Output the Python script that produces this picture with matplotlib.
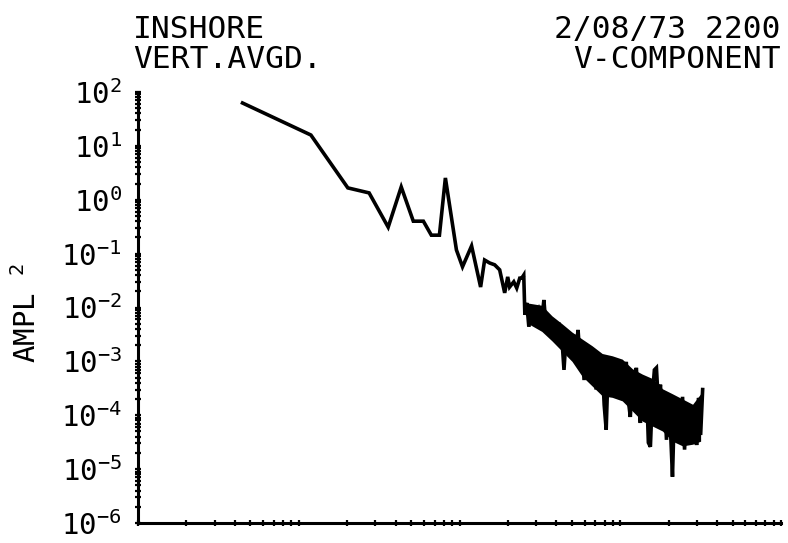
import numpy as np
import matplotlib
matplotlib.use("Agg")
import matplotlib.pyplot as plt
from matplotlib.ticker import LogLocator, LogFormatterSciNotation, NullFormatter

# spectrum (frequency, ampl^2)
freq = [4.47, 11.9, 20.2, 27.4, 36.0, 43.4, 51.6, 59.6, 66.8, 75.0,
        81.7, 95.7, 104.4, 118.9, 135.3, 143.3, 154, 165.5, 177.8, 191,
        199.5, 205, 217.6, 227, 237, 244, 251, 255, 262, 270,
        282, 294, 312, 325, 335, 340, 360, 376, 392, 416,
        434, 446.7, 459.7, 473.2, 486.9, 501.2, 515.8, 530.9, 546.4, 562.3,
        578.7, 595.7, 613.1, 631.0, 649.4, 668.3, 687.9, 707.9, 728.6, 749.9,
        771.8, 794.3, 817.5, 841.4, 865.9, 891.3, 917.3, 944.1, 971.6, 1000,
        1029, 1059, 1090, 1122, 1155, 1189, 1223, 1259, 1296, 1334,
        1372, 1413, 1454, 1496, 1540, 1585, 1631, 1679, 1728, 1778,
        1830, 1884, 1939, 1995, 2054, 2113, 2175, 2239, 2304, 2371,
        2441, 2512, 2585, 2661, 2738, 2818, 2901, 2985, 3073, 3162,
        3255]
ampl2 = [62.5, 15.9, 1.66, 1.34, 0.31, 1.73, 0.40, 0.40, 0.22, 0.22,
         2.54, 0.117, 0.057, 0.139, 0.024, 0.076, 0.067, 0.062, 0.050, 0.0187,
         0.037, 0.024, 0.030, 0.023, 0.035, 0.035, 0.040, 0.0073, 0.0122, 0.0044,
         0.0090, 0.0052, 0.0090, 0.0059, 0.0138, 0.0079, 0.0034, 0.0052, 0.00285, 0.0052,
         0.0025, 6.95e-4, 2.73e-3, 1.63e-3, 2.5e-3, 1.32e-3, 3.1e-3, 1.63e-3, 3.84e-3, 1.07e-3,
         2.02e-3, 4.5e-4, 1.85e-3, 8.6e-4, 1.5e-3, 5.6e-4, 1.45e-3, 3.0e-4, 1.15e-3, 3.7e-4,
         9.8e-4, 1.56e-4, 5.4e-5, 8.6e-4, 2.8e-4, 1.07e-3, 2.3e-4, 9.4e-4, 3.0e-4, 8.6e-4,
         2.4e-4, 5.6e-4, 9.8e-4, 1.93e-4, 9.3e-5, 4.5e-4, 2.8e-4, 7.6e-4, 1.93e-4, 7.2e-5,
         5.0e-4, 1.93e-4, 4.1e-4, 3.1e-5, 2.6e-5, 2.4e-4, 6.95e-4, 7.6e-4, 1.56e-4, 3.7e-4,
         6.6e-5, 2.4e-4, 3.5e-5, 1.93e-4, 5.4e-5, 7.2e-6, 1.56e-4, 3.5e-5, 1.93e-4, 3.1e-5,
         2.2e-4, 2.3e-5, 1.56e-4, 3.5e-5, 1.26e-4, 3.5e-5, 8.2e-5, 2.8e-5, 2.1e-4, 4.3e-5,
         3.0e-4]

# solid core of the high-frequency band, where the trace is too dense to resolve
band_freq = [262, 325, 376, 434, 501, 579, 668, 772, 891, 1029,
             1189, 1372, 1585, 1830, 2113, 2441, 2818, 3162]
band_lo = [5.2e-3, 3.6e-3, 2.4e-3, 1.55e-3, 1.0e-3, 5.3e-4, 3.5e-4, 2.3e-4, 2.15e-4, 1.85e-4,
           1.2e-4, 7.8e-5, 6.3e-5, 5.1e-5, 3.3e-5, 2.7e-5, 2.9e-5, 3.3e-5]
band_hi = [1.22e-2, 1.1e-2, 7.0e-3, 5.0e-3, 3.5e-3, 2.6e-3, 1.95e-3, 1.4e-3, 1.27e-3, 1.1e-3,
           7.3e-4, 5.8e-4, 4.8e-4, 3.1e-4, 2.5e-4, 2.0e-4, 1.6e-4, 2.5e-4]

title_left = ["INSHORE", "VERT.AVGD."]
title_right = ["2/08/73 2200", "V-COMPONENT"]
ylabel = "AMPL $^{2}$"

plt.rcParams['font.family'] = ['DejaVu Sans Mono', 'DejaVu Sans']
plt.rcParams['mathtext.fontset'] = 'custom'
plt.rcParams['mathtext.rm'] = 'DejaVu Sans Mono'
plt.rcParams['mathtext.it'] = 'DejaVu Sans Mono'
plt.rcParams['mathtext.default'] = 'rm'

W, H = 788, 543
fig = plt.figure(figsize=(W / 100, H / 100), dpi=100)
ax = fig.add_axes([138 / W, 1 - 523 / H, (781 - 138) / W, (523 - 92) / H])

ax.fill_between(band_freq, band_lo, band_hi, color='black', lw=0)
ax.plot(freq, ampl2, color='black', lw=2.6, solid_joinstyle='miter')
ax.set_xscale('log')
ax.set_yscale('log')
ax.set_xlim(1, 1e4)
ax.set_ylim(1e-6, 1e2)

for s in ['top', 'right']:
  ax.spines[s].set_visible(False)
for s in ['left', 'bottom']:
  ax.spines[s].set_linewidth(2.2)

ax.xaxis.set_major_locator(LogLocator(base=10, numticks=20))
ax.xaxis.set_minor_locator(LogLocator(base=10, subs=range(2, 10), numticks=20))
ax.xaxis.set_major_formatter(NullFormatter())
ax.xaxis.set_minor_formatter(NullFormatter())
ax.yaxis.set_major_locator(LogLocator(base=10, numticks=20))
ax.yaxis.set_minor_locator(LogLocator(base=10, subs=range(2, 10), numticks=20))
ax.yaxis.set_major_formatter(LogFormatterSciNotation())
ax.yaxis.set_minor_formatter(NullFormatter())
ax.tick_params(which='both', direction='inout', length=5, width=1.6, color='black')
ax.tick_params(axis='y', which='major', labelsize=21, pad=9)
for lab in ax.get_yticklabels():
  lab.set_verticalalignment('center_baseline')

fig.text(133 / W, 1 - 38 / H, title_left[0], fontsize=22.5, va='baseline', ha='left')
fig.text(133 / W, 1 - 68 / H, title_left[1], fontsize=22.5, va='baseline', ha='left')
fig.text(781 / W, 1 - 38 / H, title_right[0], fontsize=22.5, va='baseline', ha='right')
fig.text(781 / W, 1 - 68 / H, title_right[1], fontsize=22.5, va='baseline', ha='right')
fig.text(27 / W, 1 - 313 / H, ylabel, fontsize=21, rotation=90, ha='center', va='center')

fig.savefig("out.png", dpi=100, facecolor='white')
